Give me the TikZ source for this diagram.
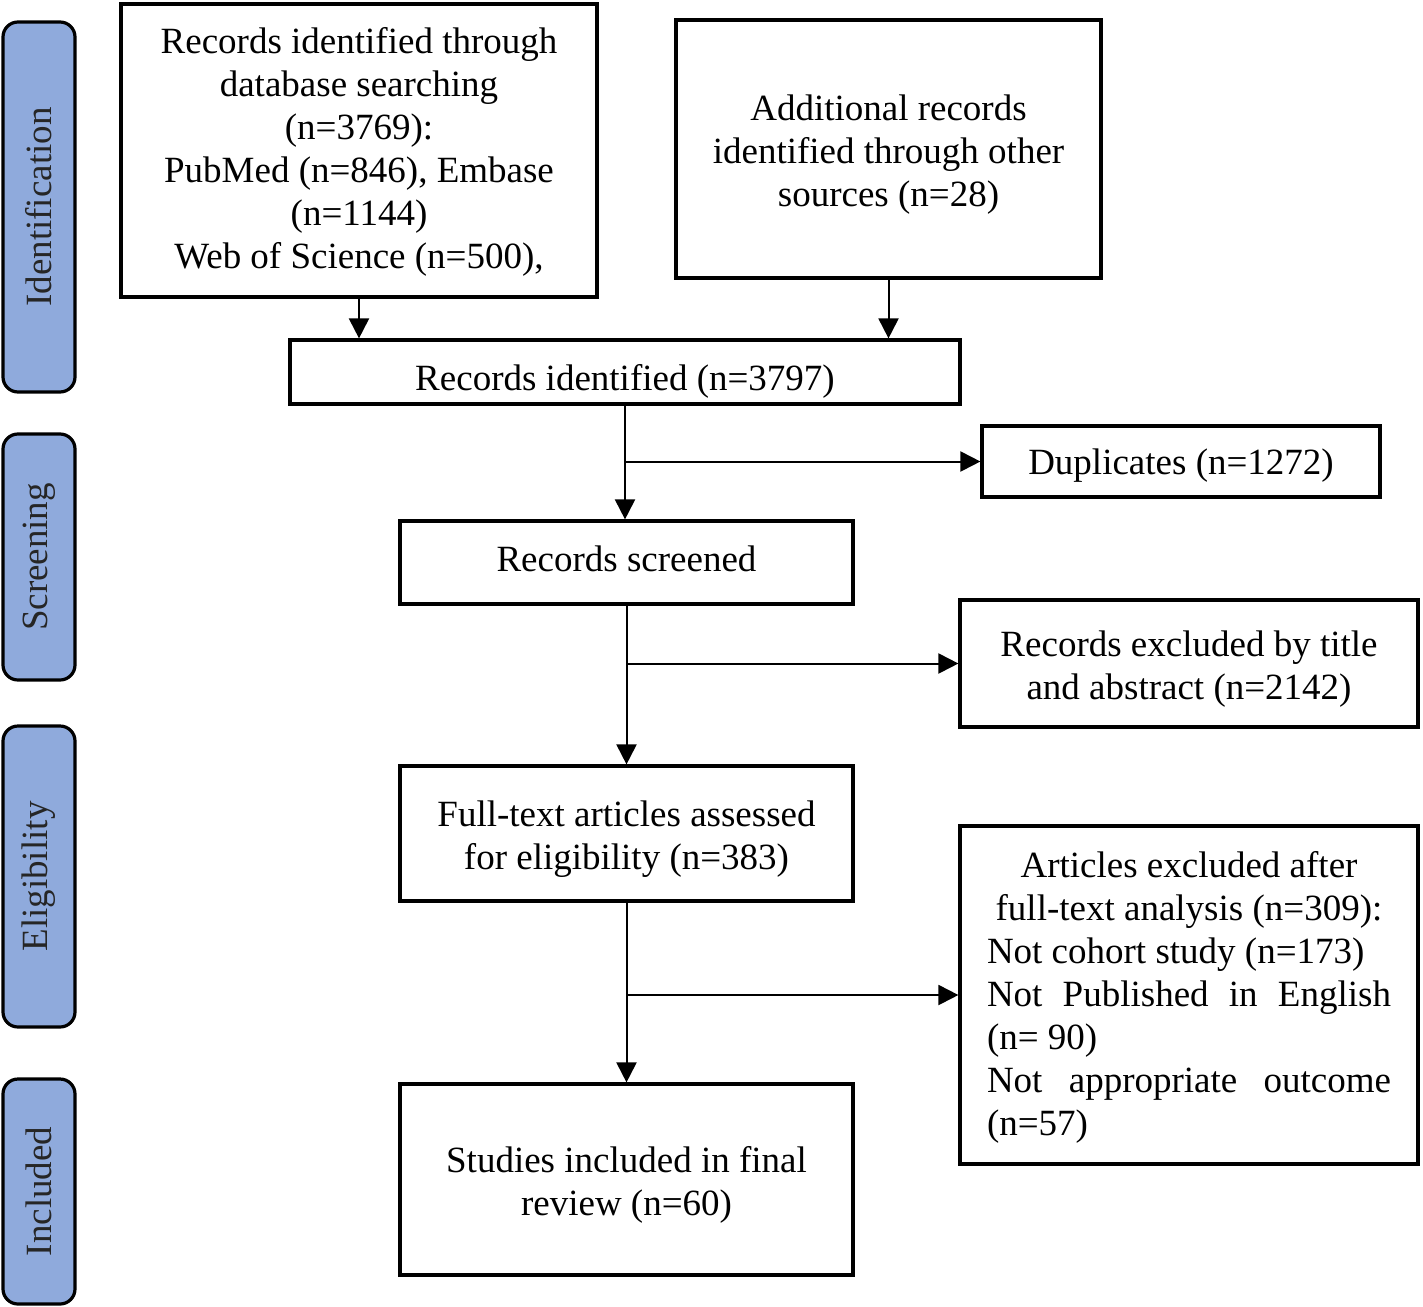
\documentclass[tikz,border=0pt]{standalone}
\usepackage{fontspec}
\setmainfont{Liberation Serif}
\usetikzlibrary{arrows.meta}
\definecolor{phaseblue}{HTML}{8FAADC}
\definecolor{phasetext}{HTML}{262626}
% shift content vertically without changing its reported size
\newcommand\shiftby[2]{\raisebox{#1}[\height][\depth]{\begin{tabular}{@{}c@{}}#2\end{tabular}}}
\begin{document}
\begin{tikzpicture}[x=0.5pt,y=-0.5pt,
  every node/.style={font=\fontsize{18.5pt}{21.5pt}\selectfont},
  box/.style={draw=black,line width=1.6pt,inner sep=0pt},
  phase/.style={draw=black,line width=1.6pt,fill=phaseblue,rounded corners=7.5pt,minimum width=36pt,inner sep=0pt},
  phaselabel/.style={rotate=90,text=phasetext},
  arr/.style={line width=1pt,-{Triangle[length=10pt,width=10pt]}}]
\useasboundingbox (0,0) rectangle (1423,1306);
% phase bars
\node[phase,minimum height=185pt] (pid) at (39,207) {};
\node[phaselabel] (tid) at (pid.center) {Identification};
\node[phase,minimum height=123pt] (psc) at (39,557) {};
\node[phaselabel] (tsc) at (psc.center) {Screening};
\node[phase,minimum height=150.5pt] (pel) at (39,876.5) {};
\node[phaselabel] (tel) at (pel.center) {Eligibility};
\node[phase,minimum height=112.5pt] (pin) at (39,1191.5) {};
\node[phaselabel] (tin) at (pin.center) {Included};
% boxes
\node[box,minimum width=238pt,minimum height=146.5pt] (box1) at (359,150.5)
  {\shiftby{-1pt}{Records identified through\\database searching\\(n=3769):\\PubMed (n=846), Embase\\(n=1144)\\Web of Science (n=500),}};
\node[box,minimum width=212.5pt,minimum height=129pt] (box2) at (888.5,149)
  {\shiftby{-3pt}{Additional records\\identified through other\\sources (n=28)}};
\node[box,minimum width=335pt,minimum height=32pt] (ident) at (625,372)
  {\shiftby{-5pt}{Records identified (n=3797)}};
\node[box,minimum width=199pt,minimum height=35.5pt] (dup) at (1181,461.5)
  {\shiftby{-2pt}{Duplicates (n=1272)}};
\node[box,minimum width=226.5pt,minimum height=41.5pt] (scr) at (626.5,562.5)
  {\shiftby{0pt}{Records screened}};
\node[box,minimum width=229pt,minimum height=63.5pt] (extitle) at (1189,663.5)
  {\shiftby{-3pt}{Records excluded by title\\and abstract (n=2142)}};
\node[box,minimum width=226.5pt,minimum height=67.5pt] (full) at (626.5,833.5)
  {\shiftby{-3pt}{Full-text articles assessed\\for eligibility (n=383)}};
\node[box,minimum width=229pt,minimum height=169pt] (exfull) at (1189,995)
  {\raisebox{-1pt}[\height][\depth]{\begin{minipage}{202pt}\centering
   Articles excluded after\\full-text analysis (n=309):\\
   \raggedright
   Not cohort study (n=173)\\
   \makebox[\linewidth][s]{Not\hfill Published\hfill in\hfill English}\\
   (n= 90)\\
   \makebox[\linewidth][s]{Not\hfill appropriate\hfill outcome}\\
   (n=57)
   \end{minipage}}};
\node[box,minimum width=226.5pt,minimum height=95.5pt] (incl) at (626.5,1179.5)
  {\shiftby{-3pt}{Studies included in final\\review (n=60)}};
% connectors
\draw[arr] (box1.south) -- (box1.south |- ident.north);
\draw[arr] (box2.south) -- (box2.south |- ident.north);
\draw[arr] (ident.south) -- (ident.south |- scr.north);
\draw[arr] (ident.south |- dup.west) -- (dup.west);
\draw[arr] (scr.south) -- (full.north);
\draw[arr] (scr.south |- extitle.west) -- (extitle.west);
\draw[arr] (full.south) -- (incl.north);
\draw[arr] (full.south |- exfull.west) -- (exfull.west);
\end{tikzpicture}
\end{document}
